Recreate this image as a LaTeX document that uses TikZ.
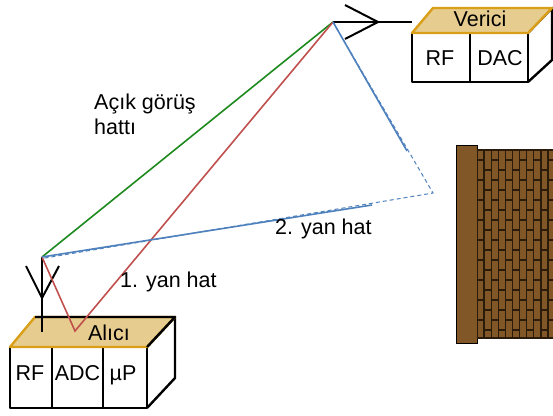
\documentclass[tikz,border=0pt]{standalone}
\usepackage{fontspec}
\setmainfont{Liberation Sans}
\usetikzlibrary{calc}
\definecolor{losgreen}{HTML}{1E8A1E}
\definecolor{rayred}{HTML}{C0504D}
\definecolor{rayblue}{HTML}{4F81BD}
\definecolor{lid}{HTML}{E6CC8E}
\definecolor{lidedge}{HTML}{D99F18}
\definecolor{brick}{HTML}{825727}
\definecolor{mortar}{HTML}{2A1B0B}

\tikzset{
	ray/.style={line width=1.6pt},
	echo/.style={rayblue, line width=1pt, dash pattern=on 4pt off 3pt},
	aerial/.style={line width=2pt, black},
	casing/.style={line width=2.4pt, line join=round},
	lbl/.style={inner sep=0pt, font=\fontsize{21.5}{24.5}\selectfont},
}

\begin{document}
\begin{tikzpicture}[x=1pt,y=-1pt]
	\useasboundingbox (0,0) rectangle (553,415);

	% verici
	\draw[casing] (412,33) rectangle (528,82);
	\draw[casing] (470,33) -- (470,82);
	\draw[casing] (528,33) -- (552,8) -- (552,60) -- (528,82);
	\filldraw[casing, fill=lid, draw=lidedge] (412,33) -- (433,8) -- (552,8) -- (528,33) -- cycle;
	\node[lbl, anchor=base] (verici) at (480,26) {Verici};
	\node[lbl, anchor=base] (txrf) at (440,65) {RF};
	\node[lbl, anchor=base] (txdac) at (500,65) {DAC};

	% alici
	\draw[casing] (10,347) rectangle (147,408);
	\draw[casing] (52,347) -- (52,408);
	\draw[casing] (103,347) -- (103,408);
	\draw[casing] (147,347) -- (175,317) -- (175,378) -- (147,408);
	\filldraw[casing, fill=lid, draw=lidedge] (10,347) -- (35,317) -- (175,317) -- (147,347) -- cycle;
	\draw[casing] (35,317) -- (175,317) -- (147,347);
	\node[lbl, anchor=base] (alici) at (109,340) {Alıcı};
	\node[lbl, anchor=base] (rxrf) at (30,380) {RF};
	\node[lbl, anchor=base] (rxadc) at (77.5,380) {ADC};
	\node[lbl, anchor=base] (rxmp) at (123,380) {µP};

	% duvar
	\fill[brick, draw=black, line width=1pt] (456,145) rectangle (477,343);
	\fill[brick] (477,150) rectangle (553,338);
	\begin{scope}
		\clip (477,150) rectangle (553,338);
		\foreach \i in {0,...,10} {
			\pgfmathsetmacro\off{mod(\i,2)*10}
			\draw[mortar, line width=1.3pt] ({477+7.1*\i},150) -- ({477+7.1*\i},338);
			\foreach \j in {0,...,9}
				\draw[mortar, line width=1.3pt] ({477+7.1*\i},{160+\off+20*\j}) -- ++(7.1,0);
		}
	\end{scope}
	\draw[mortar, line width=1.3pt] (477,150) -- (553,150);
	\draw[mortar, line width=1.3pt] (477,338) -- (553,338);

	% antenler
	\coordinate (tx) at (333,22);
	\coordinate (txfeed) at (412,22);
	\coordinate (rx) at (42,257);
	\coordinate (rxfeed) at (42,332);
	\draw[aerial] (tx) -- (txfeed);
	\draw[aerial] (345,5) -- (378,22) -- (345,39);
	\draw[aerial] (rx) -- (rxfeed);
	\draw[aerial] (26,266) -- (42,298) -- (59,266);

	% yollar
	\coordinate (gnd) at (75,331);
	\coordinate (wall) at (433,193);
	\coordinate (wallin) at (407,151);
	\coordinate (wallout) at (372,205);
	\draw[ray, losgreen] (rx) -- (tx);
	\draw[ray, rayred] (rx) -- (gnd) -- (tx);
	\draw[echo] (tx) -- (wall) -- ([yshift=-1.5pt]rx);
	\draw[ray, rayblue] (tx) -- (wallin);
	\draw[ray, rayblue] (wallout) -- (rx);

	\node[lbl, align=left, anchor=north west] (los) at (94,94) {Açık görüş\\hattı};
	\node[lbl, anchor=base west] (yan1) at (120,287) {1. yan hat};
	\node[lbl, anchor=base west] (yan2) at (275,234) {2. yan hat};
\end{tikzpicture}
\end{document}
